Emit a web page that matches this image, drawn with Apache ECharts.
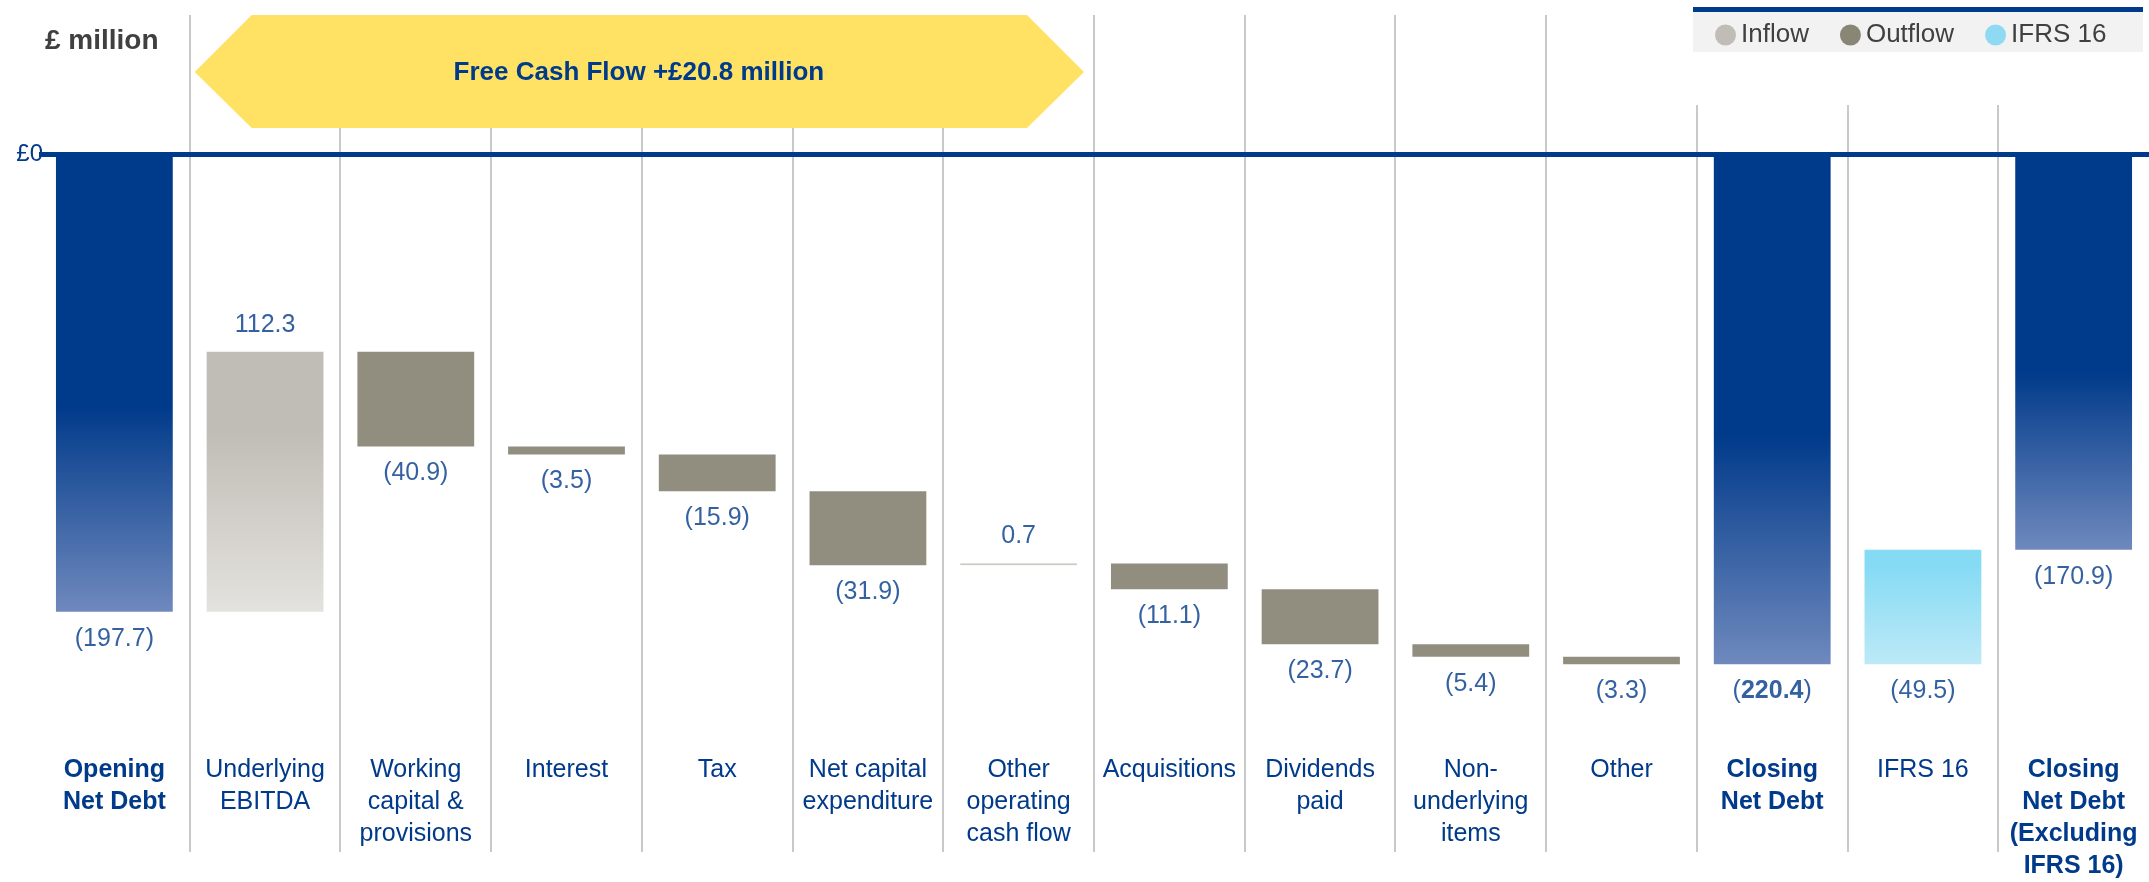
<!DOCTYPE html>
<html>
<head>
<meta charset="utf-8">
<title>Net debt bridge</title>
<script src="https://cdn.jsdelivr.net/npm/echarts@6/dist/echarts.min.js"></script>
<style>
  html, body { margin: 0; padding: 0; background: #fff; }
  #chart { width: 2149px; height: 882px; }
</style>
</head>
<body>
<div id="chart"></div>
<script>
// values, £ million
const categories = [
  'Opening\nNet Debt', 'Underlying\nEBITDA', 'Working\ncapital &\nprovisions', 'Interest', 'Tax',
  'Net capital\nexpenditure', 'Other\noperating\ncash flow', 'Acquisitions', 'Dividends\npaid',
  'Non-\nunderlying\nitems', 'Other', 'Closing\nNet Debt', 'IFRS 16',
  'Closing\nNet Debt\n(Excluding\nIFRS 16)'
];
const kinds = ['total', 'in', 'out', 'out', 'out', 'out', 'in', 'out', 'out', 'out', 'out', 'total', 'ifrs', 'total'];
const amounts = [-197.7, 112.3, -40.9, -3.5, -15.9, -31.9, 0.7, -11.1, -23.7, -5.4, -3.3, -220.4, 49.5, -170.9];
const valueLabels = ['(197.7)', '112.3', '(40.9)', '(3.5)', '(15.9)', '(31.9)', '0.7', '(11.1)', '(23.7)', '(5.4)', '(3.3)', '(220.4)', '(49.5)', '(170.9)'];
const legendNames = ['Inflow', 'Outflow', 'IFRS 16'];
const freeCashFlowSpan = [1, 6];
const freeCashFlowText = 'Free Cash Flow +£20.8 million';
const unitText = '£ million';

const NAVY = '#003a8a';
const FONT = 'Liberation Sans, Arial, sans-serif';

// waterfall: transparent base + visible piece, all in one stack
const base = [], totals = [], inflow = [], outflow = [], ifrs = [], labelPoints = [];
let running = 0;
amounts.forEach((a, i) => {
  base.push('-'); totals.push('-'); inflow.push('-'); outflow.push('-'); ifrs.push('-');
  if (kinds[i] === 'total') {
    totals[i] = a;
    running = a;
    labelPoints.push({ value: [i, a], label: { position: 'bottom' } });
    return;
  }
  const next = running + a;
  const top = Math.max(running, next);
  const bottom = Math.min(running, next);
  base[i] = top;
  const piece = bottom - top;
  if (kinds[i] === 'in') inflow[i] = piece;
  else if (kinds[i] === 'out') outflow[i] = piece;
  else ifrs[i] = piece;
  labelPoints.push(kinds[i] === 'in'
    ? { value: [i, top], label: { position: 'top' } }
    : { value: [i, bottom], label: { position: 'bottom' } });
  running = next;
});

const grad = (c1, stop, c2) => ({
  type: 'linear', x: 0, y: 0, x2: 0, y2: 1,
  colorStops: [{ offset: 0, color: c1 }, { offset: stop, color: c1 }, { offset: 1, color: c2 }]
});

const barWidth = '77.5%';
const closingIdx = categories.indexOf('Closing\nNet Debt');

const chart = echarts.init(document.getElementById('chart'));
chart.setOption({
  animation: false,
  grid: { left: 39, top: 15, width: 2114, height: 744, containLabel: false },
  graphic: [
    { type: 'rect', shape: { x: 1693, y: 12, width: 450, height: 40 }, style: { fill: '#f2f2f2' } },
    { type: 'rect', shape: { x: 1693, y: 7, width: 450, height: 5 }, style: { fill: NAVY } },
    { type: 'text', left: 45, top: 27, style: { text: unitText, font: 'bold 28px ' + FONT, fill: '#404040' } }
  ],
  legend: {
    data: [
      { name: legendNames[0], itemStyle: { color: '#c0bdb6' } },
      { name: legendNames[1], itemStyle: { color: '#8a8676' } },
      { name: legendNames[2], itemStyle: { color: '#8fdaf2' } }
    ],
    icon: 'circle',
    left: 1715, top: 22, padding: 0,
    itemWidth: 21, itemHeight: 21, itemGap: 31,
    selectedMode: false,
    textStyle: { fontSize: 26, color: '#404040', fontFamily: FONT }
  },
  xAxis: {
    type: 'category',
    data: categories,
    axisLine: { show: false },
    axisTick: { show: false },
    splitLine: { show: false },
    axisLabel: {
      interval: 0,
      margin: -2,
      color: NAVY,
      fontSize: 25,
      lineHeight: 32,
      fontFamily: FONT,
      formatter: (v, i) => kinds[i] === 'total'
        ? v.split('\n').map(s => '{b|' + s + '}').join('\n')
        : v,
      rich: { b: { fontWeight: 'bold', fontSize: 25, lineHeight: 32, color: NAVY, fontFamily: FONT } }
    }
  },
  yAxis: {
    type: 'value',
    min: -260, max: 60, interval: 20,
    splitLine: { show: false },
    axisLine: { show: false },
    axisTick: { show: false },
    axisLabel: {
      formatter: v => (v === 0 ? '£0' : ''),
      color: NAVY, fontSize: 24, margin: -4, fontFamily: FONT
    }
  },
  series: [
    {
      // column separators
      type: 'custom',
      z: 1,
      silent: true,
      data: categories.map((c, i) => [i, 0]).slice(1),
      renderItem: (params, api) => {
        const idx = api.value(0);
        const bw = api.size([1, 0])[0];
        const x = Math.round(api.coord([idx, 0])[0] - bw / 2);
        const top = idx >= 11 ? 105 : 15;
        return { type: 'line', shape: { x1: x, y1: top, x2: x, y2: 852 }, style: { stroke: '#c9c9c9', lineWidth: 2 } };
      }
    },
    {
      name: 'base', type: 'bar', stack: 'wf', barWidth, data: base,
      itemStyle: { color: 'transparent' }, silent: true,
      markLine: {
        silent: true, symbol: ['none', 'none'], label: { show: false },
        lineStyle: { color: NAVY, width: 5, type: 'solid' },
        data: [{ yAxis: 0 }]
      },
      z: 3
    },
    { name: 'Net debt', type: 'bar', stack: 'wf', barWidth, data: totals, itemStyle: { color: grad(NAVY, 0.55, '#6f89bd') } },
    { name: 'Inflow', type: 'bar', stack: 'wf', barWidth, data: inflow, itemStyle: { color: grad('#c0bdb6', 0.3, '#e4e2de') } },
    { name: 'Outflow', type: 'bar', stack: 'wf', barWidth, data: outflow, itemStyle: { color: '#928e7f' } },
    { name: 'IFRS 16', type: 'bar', stack: 'wf', barWidth, data: ifrs, itemStyle: { color: grad('#86dbf4', 0.15, '#bde9f7') } },
    {
      // value labels
      type: 'scatter', symbolSize: 1, itemStyle: { color: 'transparent' }, silent: true,
      data: labelPoints,
      label: {
        show: true, distance: 14, color: NAVY, fontSize: 25, fontFamily: FONT,
        formatter: p => {
          const t = valueLabels[p.dataIndex];
          if (p.dataIndex === closingIdx) return '{n|(}{b|' + t.slice(1, -1) + '}{n|)}';
          return t;
        },
        rich: {
          n: { fontSize: 25, color: NAVY, fontFamily: FONT },
          b: { fontSize: 25, color: NAVY, fontFamily: FONT, fontWeight: 'bold' }
        }
      },
      z: 5
    },
    {
      // free cash flow arrow
      type: 'custom', z: 4, silent: true,
      data: [freeCashFlowSpan],
      renderItem: (params, api) => {
        const bw = api.size([1, 0])[0];
        const x0 = api.coord([api.value(0), 0])[0] - bw / 2;
        const x1 = api.coord([api.value(1), 0])[0] + bw / 2;
        const t = 15, m = 72, b = 128;
        return {
          type: 'group',
          children: [
            {
              type: 'polygon',
              shape: { points: [[x0 + 5, m], [x0 + 62, t], [x1 - 67, t], [x1 - 10, m], [x1 - 67, b], [x0 + 62, b]] },
              style: { fill: '#ffe264' }
            },
            {
              type: 'text',
              style: {
                text: freeCashFlowText, x: (x0 + x1) / 2 - 3, y: m + 1,
                align: 'center', verticalAlign: 'middle',
                fill: NAVY, font: 'bold 26px ' + FONT
              }
            }
          ]
        };
      }
    }
  ]
});
</script>
</body>
</html>
